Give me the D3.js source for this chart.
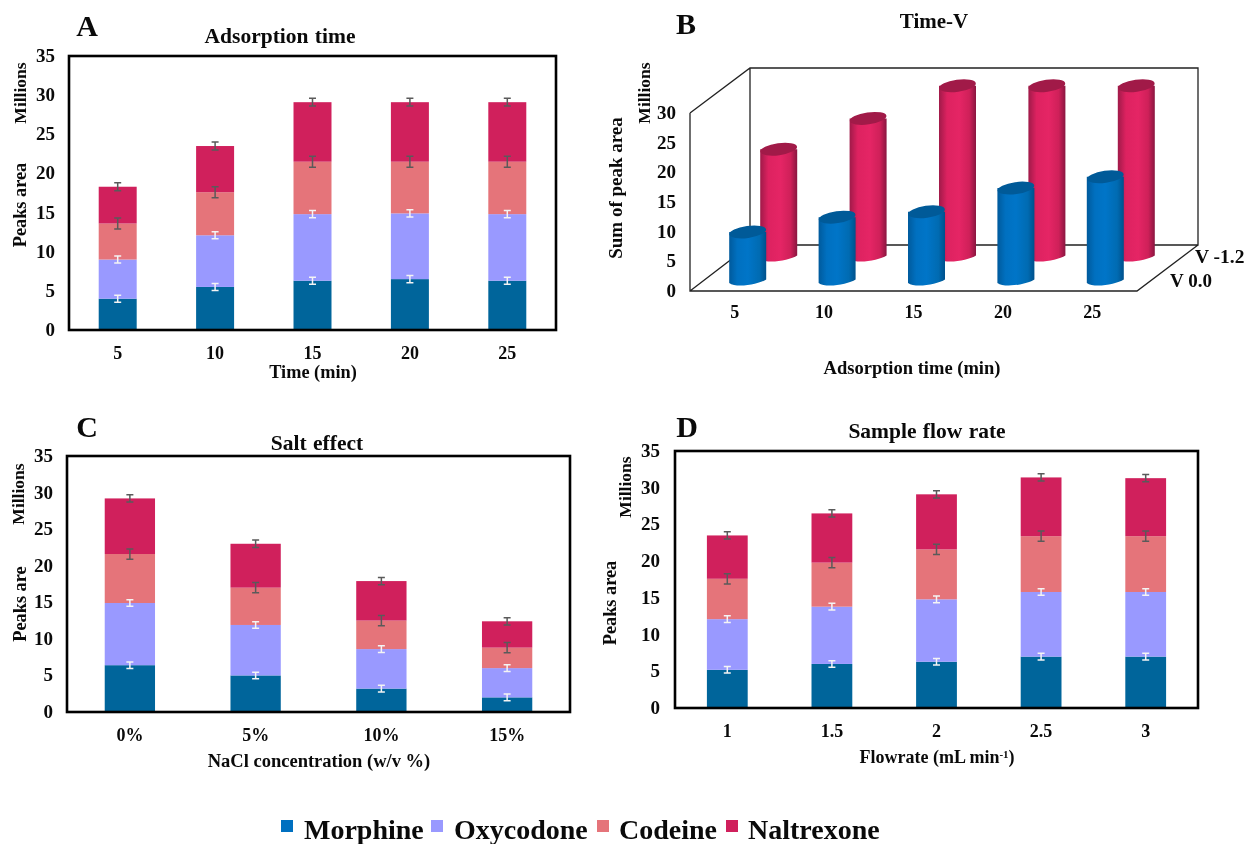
<!DOCTYPE html>
<html><head><meta charset="utf-8">
<script src="https://cdnjs.cloudflare.com/ajax/libs/d3/7.8.5/d3.min.js"></script>
<style>html,body{margin:0;background:#fff}svg{display:block;filter:blur(0.45px)}text{font-family:"Liberation Serif",serif;font-weight:bold;fill:#0a0a0a}</style>
</head><body><svg id="c" width="1250" height="844"></svg>
<script>
const seriesNames=["Morphine","Oxycodone","Codeine","Naltrexone"];
const barColors=["#00659b","#9999ff","#e5747a","#d0205c"];
const legendColors=["#0070c0","#9999ff","#e5747a","#d0205c"];
const errColors=["#f4f4f4","#f4f4f4","#5a5a5a","#5a5a5a"];
const yTicks=[0,5,10,15,20,25,30,35];
// cumulative tops of stacked segments
const catsA=["5","10","15","20","25"];
const morphineA=[4.0,5.5,6.3,6.5,6.3];
const oxycodoneA=[9.0,12.1,14.8,14.9,14.8];
const codeineA=[13.6,17.6,21.5,21.5,21.5];
const naltrexoneA=[18.3,23.5,29.1,29.1,29.1];
const catsC=["0%","5%","10%","15%"];
const morphineC=[6.4,5.0,3.2,2.0];
const oxycodoneC=[14.9,11.9,8.6,6.0];
const codeineC=[21.6,17.0,12.5,8.8];
const naltrexoneC=[29.2,23.0,17.9,12.4];
const catsD=["1","1.5","2","2.5","3"];
const morphineD=[5.2,6.0,6.3,7.0,7.0];
const oxycodoneD=[12.1,13.8,14.8,15.8,15.8];
const codeineD=[17.6,19.8,21.6,23.4,23.4];
const naltrexoneD=[23.5,26.5,29.1,31.4,31.3];
const errHalf=[0.45,0.45,0.7,0.5];
const catsB=["5","10","15","20","25"];
const v00=[8.6,11.1,12,16,17.9];
const v12=[18.5,23.7,29.2,29.2,29.2];
const bTicks=[0,5,10,15,20,25,30];

const svg=d3.select("#c");
function txt(x,y,s,size,opt={}){
  const t=svg.append("text").attr("x",x).attr("y",y).attr("font-size",size)
    .attr("text-anchor",opt.anchor||"middle").text(s);
  if(opt.ws)t.attr("word-spacing",opt.ws);
  if(opt.rot)t.attr("transform",`rotate(-90 ${x} ${y})`);
  return t;
}
function stacked(p){
  const g=svg.append("g");
  const x=d3.scaleBand().domain(p.cats).range([p.l,p.r]).paddingInner(p.pad).paddingOuter(p.pad/2);
  const y=d3.scaleLinear().domain([0,35]).range([p.b,p.t]);
  const tops=p.series;
  tops.forEach((vals,si)=>{
    g.selectAll(null).data(vals).join("rect")
     .attr("x",(d,i)=>x(p.cats[i])).attr("width",x.bandwidth())
     .attr("y",d=>y(d)).attr("height",(d,i)=>y(si?tops[si-1][i]:0)-y(d))
     .attr("fill",barColors[si]);
  });
  tops.forEach((vals,si)=>{
    vals.forEach((d,i)=>{
      const cx=x(p.cats[i])+x.bandwidth()/2,y1=y(d+errHalf[si]),y2=y(d-errHalf[si]);
      const c=errColors[si];
      const path=d3.path();
      path.moveTo(cx,y1);path.lineTo(cx,y2);
      path.moveTo(cx-3.5,y1);path.lineTo(cx+3.5,y1);
      path.moveTo(cx-3.5,y2);path.lineTo(cx+3.5,y2);
      g.append("path").attr("d",path.toString()).attr("stroke",c).attr("stroke-width",1.5).attr("fill","none");
    });
  });
  g.append("rect").attr("x",p.l).attr("y",p.t).attr("width",p.r-p.l).attr("height",p.b-p.t)
   .attr("fill","none").attr("stroke","#000").attr("stroke-width",2.6);
  yTicks.forEach(v=>txt(p.l-p.tickGap,y(v)+6,v,19,{anchor:"end"}));
  p.cats.forEach(c=>txt(x(c)+x.bandwidth()/2,p.b+p.xTickDy,c,18));
}
stacked({cats:catsA,series:[morphineA,oxycodoneA,codeineA,naltrexoneA],l:69,r:556,t:56,b:330,pad:0.61,tickGap:14,xTickDy:29});
stacked({cats:catsC,series:[morphineC,oxycodoneC,codeineC,naltrexoneC],l:67,r:570,t:456,b:712,pad:0.6,tickGap:14,xTickDy:29});
stacked({cats:catsD,series:[morphineD,oxycodoneD,codeineD,naltrexoneD],l:675,r:1198,t:451,b:708,pad:0.61,tickGap:15,xTickDy:29});

// A text
txt(87,36,"A",30);txt(280,43,"Adsorption time",21.5,{ws:1});
txt(26,93,"Millions",17.5,{rot:true});txt(26,205,"Peaks area",18.3,{rot:true});
txt(313,378,"Time (min)",18.3);
// C text
txt(87,437,"C",30);txt(317,450,"Salt effect",21.5,{ws:1});
txt(24,494,"Millions",17.5,{rot:true});txt(26,604,"Peaks are",18.3,{rot:true});
txt(319,767,"NaCl concentration (w/v %)",18.5);
// D text
txt(687,437,"D",30);txt(927,438,"Sample flow rate",21.5,{ws:1});
txt(631,487,"Millions",17.5,{rot:true});txt(616,603,"Peaks area",18.3,{rot:true});
const fl=txt(937,763,"Flowrate (mL min",18);
fl.append("tspan").attr("dy",-5).attr("font-size",11).text("-1");
fl.append("tspan").attr("dy",5).text(")");

// B : 3-D cylinders
const defs=svg.append("defs");
function grad(id,stops){
  const g=defs.append("linearGradient").attr("id",id);
  stops.forEach(([o,c])=>g.append("stop").attr("offset",o).attr("stop-color",c));
}
grad("gb",[[0,"#005a9c"],[0.22,"#0070c0"],[0.5,"#0075c8"],[0.82,"#006bb2"],[1,"#00518c"]]);
grad("gr",[[0,"#a01a49"],[0.22,"#dd2260"],[0.55,"#e52565"],[0.82,"#cf2059"],[1,"#8a1640"]]);
const bg=svg.append("g");
const by=d3.scaleLinear().domain([0,30]).range([291,113]);
const bx=d3.scaleBand().domain(catsB).range([690,1137]).padding(0);
const depth={dx:60,dy:-46};
const frame=d3.path();
frame.moveTo(690,113);frame.lineTo(750,68);frame.lineTo(1198,68);frame.lineTo(1198,245);frame.lineTo(750,245);frame.lineTo(750,68);
frame.moveTo(690,113);frame.lineTo(690,291);frame.lineTo(1137,291);frame.lineTo(1198,245);
frame.moveTo(690,291);frame.lineTo(750,245);
bg.append("path").attr("d",frame.toString()).attr("fill","none").attr("stroke","#222").attr("stroke-width",1.3);
function cyl(vals,dx,dy,fillId,top){
  vals.forEach((v,i)=>{
    const c=catsB[i],cx=bx(c)+bx.bandwidth()/2+dx+13,base=by(0)+dy-8,h=by(0)-by(v),rx=18.5,ry=6;
    const p=d3.path();
    p.moveTo(cx-rx,base-h);p.lineTo(cx-rx,base);
    p.bezierCurveTo(cx-rx*0.6,base+ry*0.9,cx+rx*0.6,base+ry*0.2,cx+rx,base-ry*0.6);
    p.lineTo(cx+rx,base-h);p.closePath();
    bg.append("path").attr("d",p.toString()).attr("fill",`url(#${fillId})`);
    bg.append("ellipse").attr("cx",cx).attr("cy",base-h).attr("rx",rx).attr("ry",ry)
      .attr("transform",`rotate(-8 ${cx} ${base-h})`).attr("fill",top);
  });
}
cyl(v12,depth.dx-29,depth.dy+22,"gr","#a11a48");
cyl(v00,0,0,"gb","#005a98");
bTicks.forEach(v=>txt(676,by(v)+6,v,19,{anchor:"end"}));
catsB.forEach(c=>txt(bx(c)+bx.bandwidth()/2,318,c,18));
txt(686,34,"B",30);txt(934,28,"Time-V",21);
txt(650,93,"Millions",17.5,{rot:true});txt(622,188,"Sum of peak area",19,{rot:true});
txt(912,374,"Adsorption time (min)",18.5);
txt(1195,263,"V -1.2",19.5,{anchor:"start"});txt(1170,287,"V 0.0",19,{anchor:"start"});

// legend
const legendX=[281,431,597,726],legendTextX=[304,454,619,748];
seriesNames.forEach((s,i)=>{
  svg.append("rect").attr("x",legendX[i]).attr("y",820).attr("width",12).attr("height",12).attr("fill",legendColors[i]);
  txt(legendTextX[i],839,s,28,{anchor:"start"});
});
</script></body></html>
